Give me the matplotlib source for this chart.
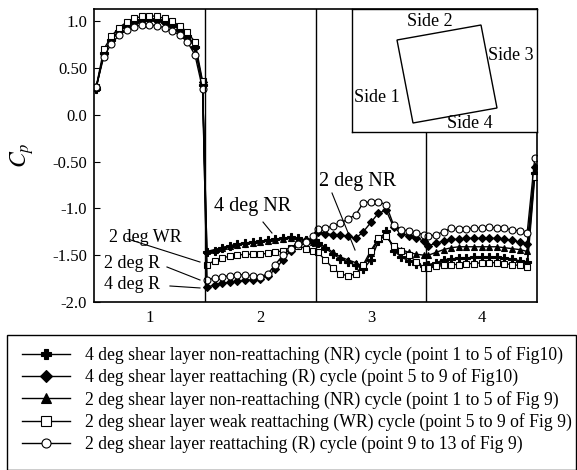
import matplotlib.pyplot as plt
import numpy as np
from matplotlib.patches import Rectangle, Polygon

plt.rcParams['font.family'] = ['Liberation Serif', 'DejaVu Serif']
plt.rcParams['mathtext.fontset'] = 'stix'

# Cp at 15 taps per side, sides 1-4 (last tap of side 4 is the corner)
cp_4nr = [0.28, 0.66, 0.80, 0.89, 0.95, 0.99, 1.01, 1.02, 1.01, 0.99, 0.96, 0.91, 0.84, 0.72, 0.32,
          -1.47, -1.45, -1.42, -1.40, -1.38, -1.37, -1.36, -1.35, -1.34, -1.33, -1.32, -1.31, -1.32, -1.34, -1.36,
          -1.37, -1.42, -1.49, -1.54, -1.57, -1.61, -1.65, -1.55, -1.35, -1.24, -1.45, -1.52, -1.56, -1.59, -1.62,
          -1.60, -1.58, -1.55, -1.54, -1.53, -1.53, -1.52, -1.52, -1.52, -1.52, -1.53, -1.54, -1.56, -1.57, -0.62]
cp_4r = [0.30, 0.65, 0.80, 0.89, 0.95, 0.99, 1.01, 1.02, 1.01, 0.99, 0.96, 0.91, 0.84, 0.72, 0.35,
         -1.84, -1.82, -1.80, -1.79, -1.78, -1.77, -1.76, -1.75, -1.72, -1.65, -1.55, -1.45, -1.38, -1.34, -1.33,
         -1.25, -1.27, -1.28, -1.28, -1.30, -1.32, -1.25, -1.15, -1.05, -1.02, -1.20, -1.27, -1.29, -1.32, -1.35,
         -1.40, -1.37, -1.35, -1.33, -1.33, -1.32, -1.32, -1.32, -1.32, -1.32, -1.33, -1.34, -1.36, -1.38, -0.56]
cp_2nr = [0.29, 0.66, 0.81, 0.90, 0.96, 1.00, 1.02, 1.03, 1.02, 1.00, 0.97, 0.92, 0.85, 0.74, 0.33,
          -1.46, -1.44, -1.42, -1.40, -1.39, -1.38, -1.37, -1.36, -1.35, -1.34, -1.33, -1.32, -1.33, -1.35, -1.36,
          -1.37, -1.41, -1.47, -1.52, -1.55, -1.58, -1.62, -1.48, -1.33, -1.30, -1.40, -1.44, -1.47, -1.49, -1.50,
          -1.50, -1.47, -1.44, -1.42, -1.41, -1.41, -1.41, -1.41, -1.41, -1.41, -1.42, -1.43, -1.44, -1.46, -0.60]
cp_2wr = [0.30, 0.70, 0.84, 0.93, 0.99, 1.03, 1.05, 1.06, 1.05, 1.03, 1.00, 0.95, 0.88, 0.78, 0.36,
          -1.60, -1.56, -1.53, -1.51, -1.50, -1.49, -1.49, -1.49, -1.48, -1.47, -1.45, -1.42, -1.40, -1.43, -1.46,
          -1.47, -1.55, -1.64, -1.70, -1.72, -1.70, -1.60, -1.45, -1.32, -1.30, -1.40, -1.45, -1.50, -1.57, -1.64,
          -1.64, -1.62, -1.61, -1.60, -1.60, -1.59, -1.59, -1.58, -1.58, -1.58, -1.59, -1.60, -1.61, -1.63, -0.66]
cp_2r = [0.30, 0.62, 0.76, 0.85, 0.91, 0.94, 0.96, 0.96, 0.95, 0.93, 0.90, 0.85, 0.78, 0.64, 0.28,
         -1.77, -1.74, -1.73, -1.72, -1.71, -1.71, -1.72, -1.73, -1.70, -1.60, -1.50, -1.43, -1.38, -1.36, -1.30,
         -1.22, -1.21, -1.19, -1.16, -1.11, -1.07, -0.94, -0.93, -0.93, -0.96, -1.18, -1.23, -1.24, -1.26, -1.28,
         -1.30, -1.28, -1.25, -1.21, -1.22, -1.22, -1.21, -1.21, -1.20, -1.21, -1.21, -1.23, -1.24, -1.26, -0.46]

labels = ['4 deg shear layer non-reattaching (NR) cycle (point 1 to 5 of Fig10)',
          '4 deg shear layer reattaching (R) cycle (point 5 to 9 of Fig10)',
          '2 deg shear layer non-reattaching (NR) cycle (point 1 to 5 of Fig 9)',
          '2 deg shear layer weak reattaching (WR) cycle (point 5 to 9 of Fig 9)',
          '2 deg shear layer reattaching (R) cycle (point 9 to 13 of Fig 9)']
sides = [1, 2, 3, 4]
n_tap = 15

# tap positions along each side
x = np.concatenate([s - 0.48 + np.arange(n_tap) * 0.96 / (n_tap - 1) for s in sides])

fig = plt.figure(figsize=(5.77, 4.70), dpi=100)
ax = fig.add_axes([94/577, 1 - 302/470, 443/577, 293/470])

styles = [dict(marker='P', mfc='black', ms=6),
          dict(marker='D', mfc='black', ms=4.5),
          dict(marker='^', mfc='black', ms=5),
          dict(marker='s', mfc='white', ms=5),
          dict(marker='o', mfc='white', ms=5)]
series = [cp_4nr, cp_4r, cp_2nr, cp_2wr, cp_2r]
lines = []
for ys, st, lab in zip(series, styles, labels):
    ln, = ax.plot(x, ys, color='black', lw=1.0, mec='black', mew=0.8, label=lab, **st)
    lines.append(ln)

for b in [1.5, 2.5, 3.5]:
    ax.axvline(b, color='black', lw=1.0)

ax.set_xlim(0.5, 4.5)
ax.set_ylim(-2.0, 1.13)
ax.set_xticks(sides)
ax.set_xticklabels([str(s) for s in sides], fontsize=12)
ax.tick_params(axis='x', length=0, pad=6)
yt = [1.0, 0.5, 0.0, -0.5, -1.0, -1.5, -2.0]
ax.set_yticks(yt)
ax.set_yticklabels(['1.0', '0.50', '0.0', '-0.50', '-1.0', '-1.50', '-2.0'], fontsize=12)
ax.tick_params(axis='y', direction='in', length=4, pad=5)
for sp in ax.spines.values():
    sp.set_linewidth(1.2)
ax.set_ylabel('$C_p$', fontsize=17, labelpad=12)

# case labels with leader lines
notes = [('4 deg NR', (1.936, -0.975), (2.026, -1.146), (2.107, -1.263), 14.5),
         ('2 deg WR', (0.96, -1.306), (0.804, -1.327), (1.457, -1.573), 13),
         ('2 deg R', (0.843, -1.594), (1.159, -1.626), (1.457, -1.765), 13),
         ('4 deg R', (0.843, -1.808), (1.186, -1.829), (1.457, -1.85), 13),
         ('2 deg NR', (2.884, -0.708), (2.649, -0.836), (2.857, -1.445), 14.5)]
for txt, pos, p0, p1, fs in notes:
    ax.text(pos[0], pos[1], txt, fontsize=fs, ha='center', va='center')
    ax.plot([p0[0], p1[0]], [p0[1], p1[1]], color='black', lw=0.8)

# inset sketch of the tilted cylinder
ins = fig.add_axes([352/577, 1 - 132/470, 185/577, 123/470])
ins.set_xlim(352, 537)
ins.set_ylim(132, 9)
ins.set_xticks([])
ins.set_yticks([])
for sp in ins.spines.values():
    sp.set_linewidth(1.0)
ins.add_patch(Polygon([(397, 40), (481, 25), (497, 108), (413, 123)], closed=True,
                      fill=False, ec='black', lw=1.0))
ins.text(430, 21, 'Side 2', fontsize=13, ha='center', va='center')
ins.text(511, 56, 'Side 3', fontsize=13, ha='center', va='center')
ins.text(470, 124, 'Side 4', fontsize=13, ha='center', va='center')
ins.text(377, 98, 'Side 1', fontsize=13, ha='center', va='center')

# legend box below the plot
fig.patches.append(Rectangle((7/577, 0), 569/577, 135/470, transform=fig.transFigure,
                             fill=False, ec='black', lw=1.0))
fig.legend(handles=lines, loc='upper left', bbox_to_anchor=(15/577, 1 - 339/470),
           frameon=False, fontsize=12.7, handlelength=2.7, handletextpad=0.85,
           labelspacing=0.25, numpoints=1, markerscale=1.3, borderaxespad=0)

fig.savefig('out.png', dpi=100)
